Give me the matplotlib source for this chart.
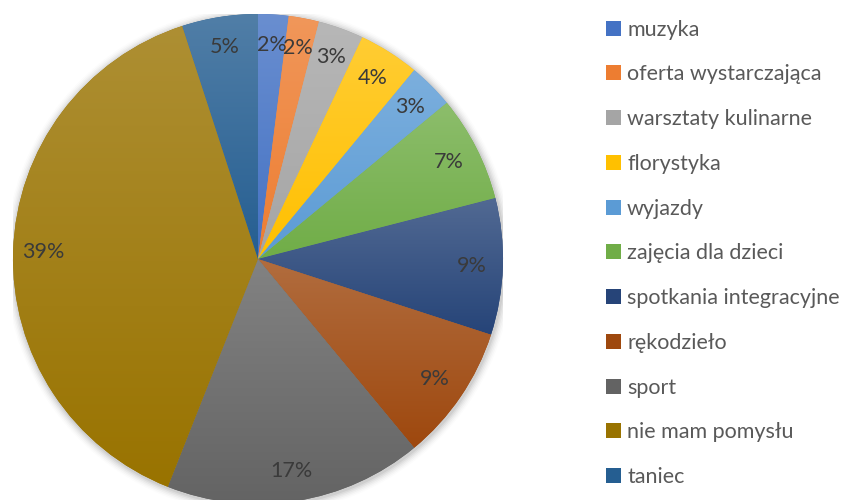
import numpy as np
import matplotlib
matplotlib.use("Agg")
import matplotlib.pyplot as plt
from matplotlib.colors import to_rgb
from matplotlib.patches import Circle

categories = ["muzyka", "oferta wystarczająca", "warsztaty kulinarne", "florystyka",
              "wyjazdy", "zajęcia dla dzieci", "spotkania integracyjne", "rękodzieło",
              "sport", "nie mam pomysłu", "taniec"]
values = [2, 2, 3, 4, 3, 7, 9, 9, 17, 39, 5]
colors = ["#4472C4", "#ED7D31", "#A5A5A5", "#FFC000", "#5B9BD5", "#70AD47",
          "#264478", "#9E480E", "#636363", "#997300", "#255E91"]

plt.rcParams['font.family'] = ['Lato', 'DejaVu Sans']

fig = plt.figure(figsize=(8.49, 5.00), dpi=100)
W, H = 849, 500
cx, cy, R = 258, 259, 245
ax = fig.add_axes([(cx - R) / W, (H - cy - R) / H, 2 * R / W, 2 * R / H])

# soft shadow
for i, a in enumerate(np.linspace(0.05, 0.01, 6)):
    ax.add_patch(Circle((0.004, -0.006), 1.0 + 0.006 * (i + 1), color='black',
                        alpha=a, lw=0, zorder=0))

wedges, texts, autotexts = ax.pie(
    values, colors=colors, startangle=90, counterclock=False, radius=1,
    autopct=lambda p: f"{p:.0f}%", pctdistance=0.875,
    wedgeprops=dict(linewidth=0), textprops=dict(fontsize=15.5, color="#3a3a3a"),
    frame=True)

# gradient fill per wedge
for w, c in zip(wedges, colors):
    base = np.array(to_rgb(c))
    top = base + (1 - base) * 0.20
    verts = w.get_patch_transform().transform(w.get_path().vertices)
    y0, y1 = verts[:, 1].min(), verts[:, 1].max()
    x0, x1 = verts[:, 0].min(), verts[:, 0].max()
    t = np.linspace(0, 1, 256)[:, None]
    grad = top[None, :] * (1 - t) + base[None, :] * t
    img = np.repeat(grad[:, None, :], 2, axis=1)
    im = ax.imshow(img, extent=[x0, x1, y0, y1], origin='upper', zorder=1.5,
                   interpolation='bilinear', aspect='auto')
    im.set_clip_path(w)
for t_ in autotexts:
    t_.set_zorder(3)
ax.set_xlim(-1, 1)
ax.set_ylim(-1, 1)
ax.set_aspect('equal')
ax.axis('off')

leg = fig.legend(wedges, categories, loc='upper left',
                 bbox_to_anchor=(597 / W, 1 - 11 / H), frameon=False,
                 fontsize=15.5, labelcolor="#595959", handlelength=0.7,
                 handleheight=0.7, handletextpad=0.3, labelspacing=1.15,
                 borderaxespad=0)

fig.savefig("out.png", dpi=100)
